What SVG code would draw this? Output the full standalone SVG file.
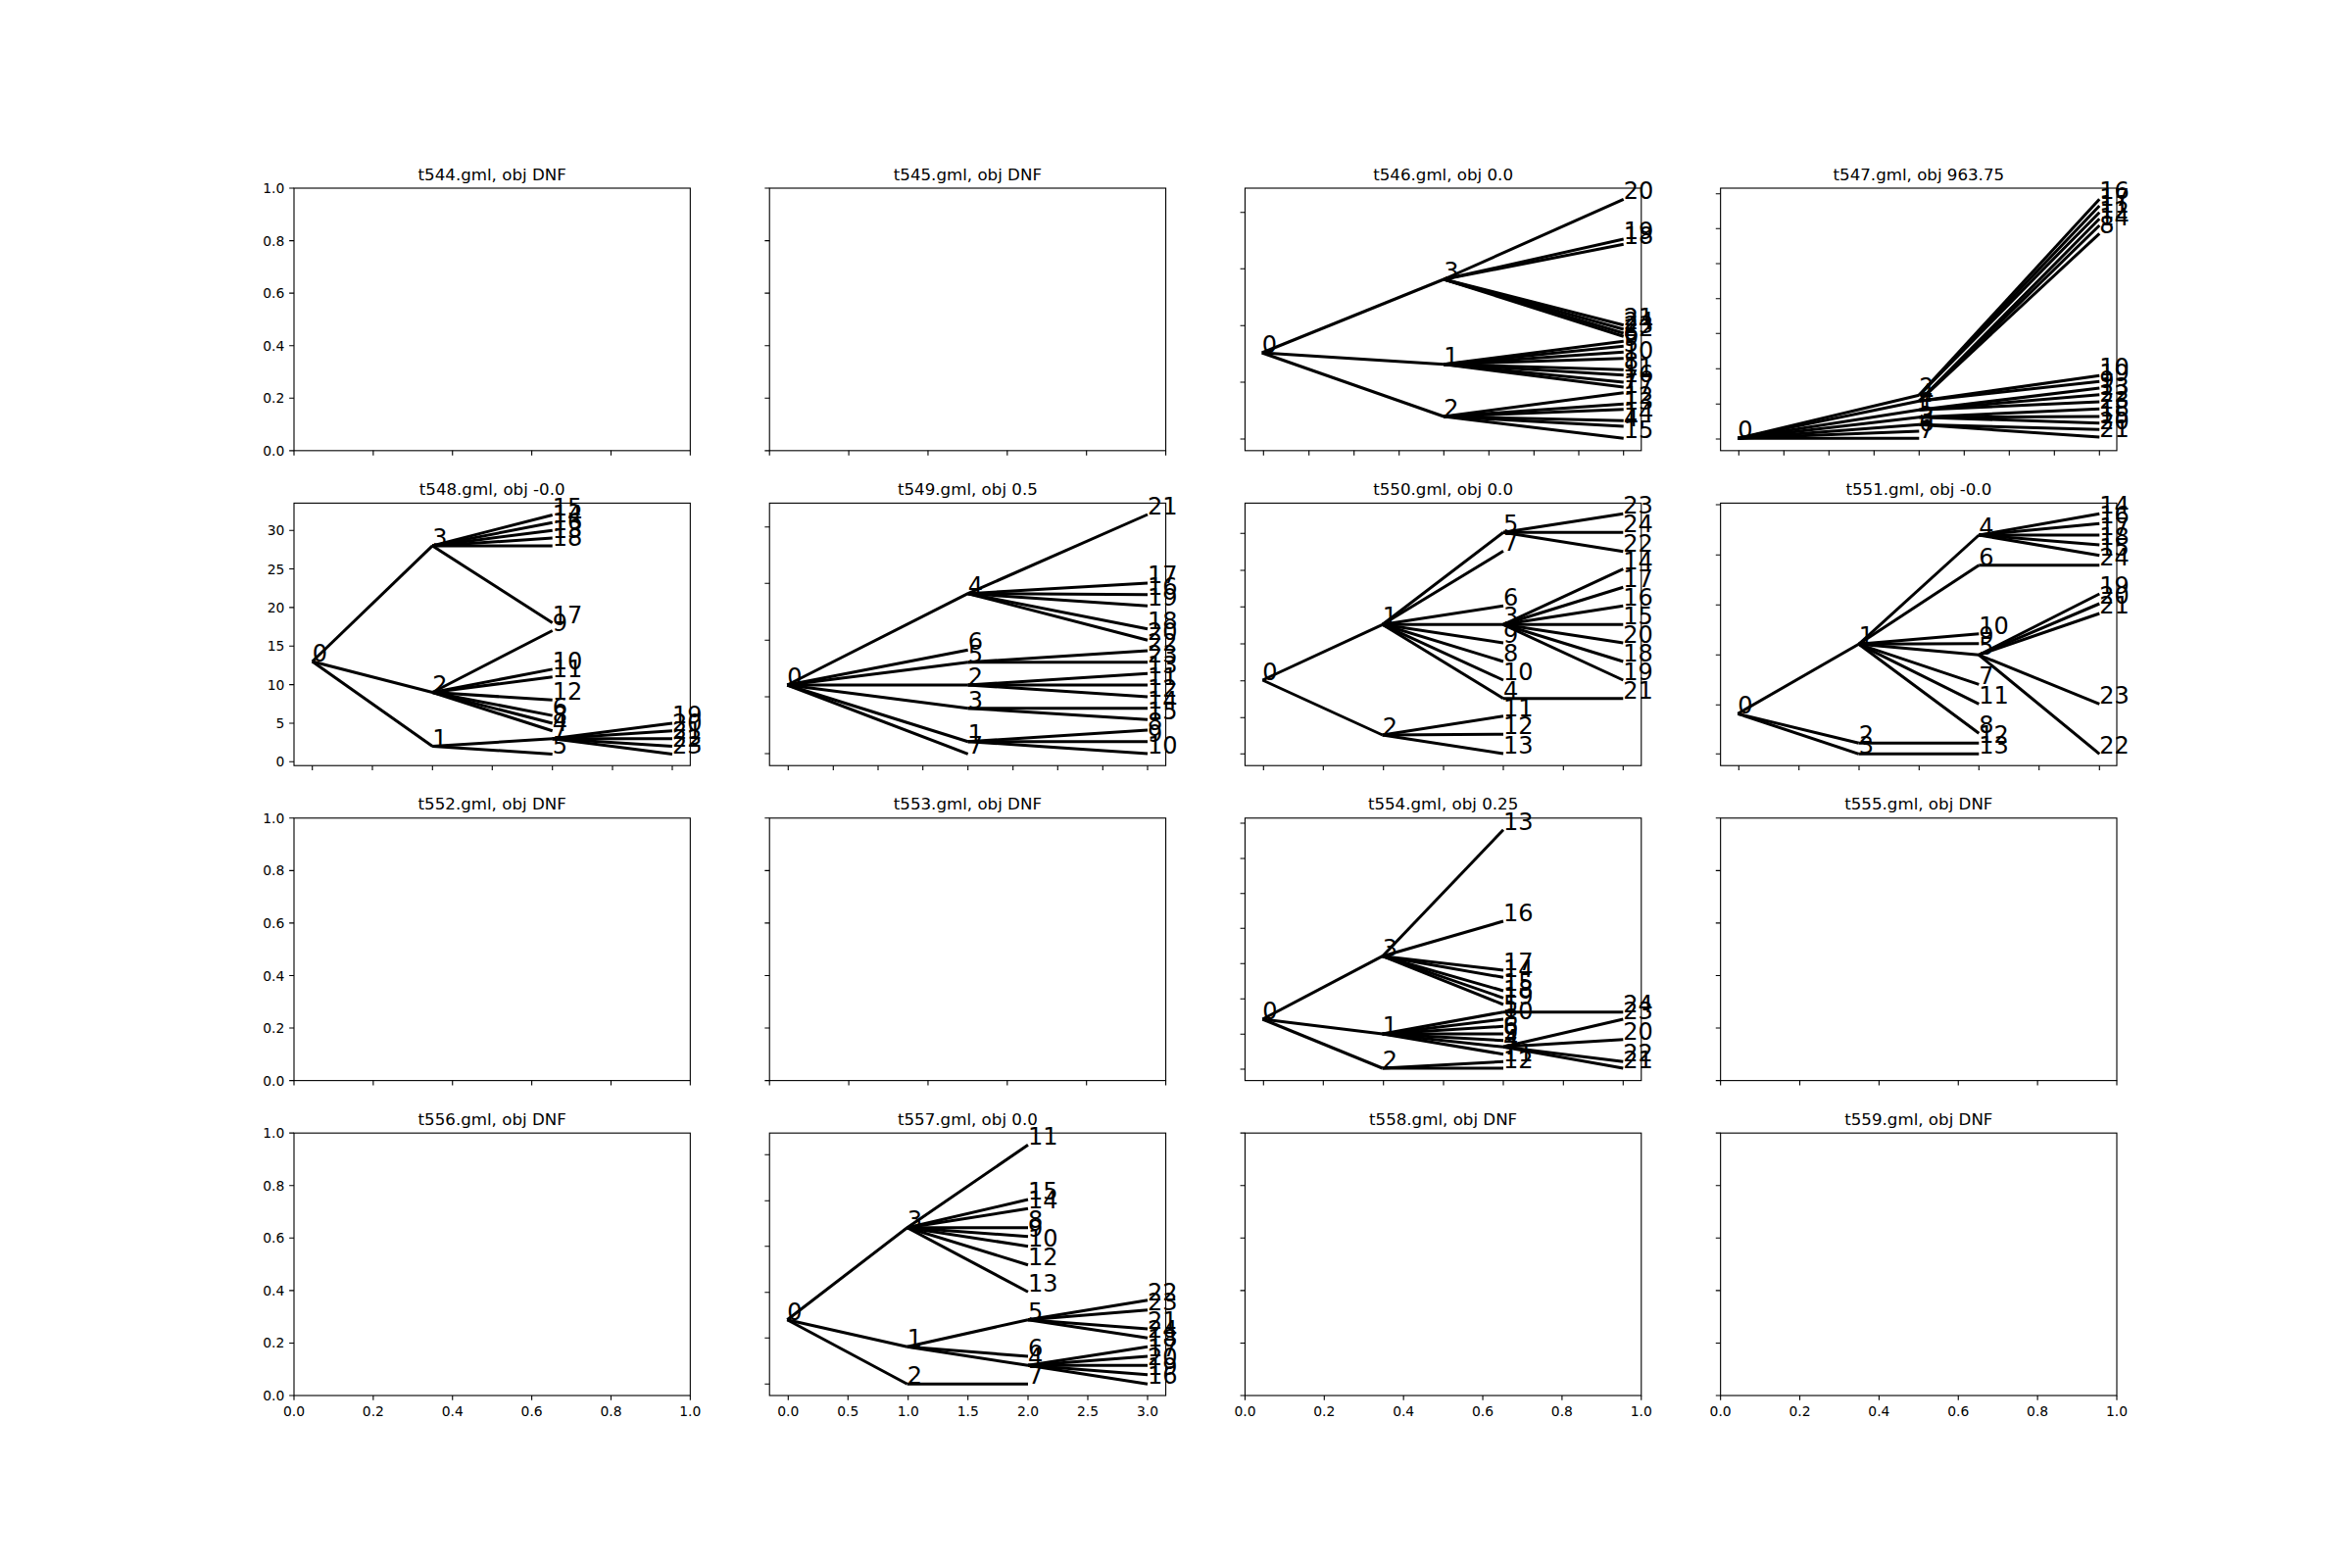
<svg xmlns="http://www.w3.org/2000/svg" xmlns:xlink="http://www.w3.org/1999/xlink" width="2400" height="1600" viewBox="0 0 2400 1600">
<style>
.ax{fill:none;stroke:#000;stroke-width:1.11}
.tk{fill:none;stroke:#000;stroke-width:1.11}
.e line{stroke:#000;stroke-width:3}
.ttl{font-family:'DejaVu Sans',sans-serif;font-size:16.67px;text-anchor:middle;fill:#000}
.tl{font-family:'DejaVu Sans',sans-serif;font-size:13.89px;fill:#000}
.yl{text-anchor:end}
.xl{text-anchor:middle}
.n text{font-family:'DejaVu Sans',sans-serif;font-size:24px;fill:#000}
</style>
<defs>
<g id="emptyAx">
<rect x="0" y="0" width="404.35" height="267.83" class="ax"/>
<path class="tk" d="M0 267.83v4.86M80.87 267.83v4.86M161.74 267.83v4.86M242.61 267.83v4.86M323.48 267.83v4.86M404.35 267.83v4.86M0 267.83h-4.86M0 214.26h-4.86M0 160.7h-4.86M0 107.13h-4.86M0 53.57h-4.86M0 0h-4.86"/>
</g>
</defs>
<rect width="2400" height="1600" fill="#fff"/>

<!-- t544 -->
<g id="t544">
<use xlink:href="#emptyAx" href="#emptyAx" transform="translate(300,192)"/>
<text class="ttl" x="502.17" y="183.67">t544.gml, obj DNF</text>
<g class="tl yl"><text x="290.3" y="464.8">0.0</text><text x="290.3" y="411.3">0.2</text><text x="290.3" y="357.7">0.4</text><text x="290.3" y="304.1">0.6</text><text x="290.3" y="250.6">0.8</text><text x="290.3" y="197">1.0</text></g>
</g>
<!-- t545 -->
<g id="t545">
<use xlink:href="#emptyAx" href="#emptyAx" transform="translate(785.22,192)"/>
<text class="ttl" x="987.4" y="183.67">t545.gml, obj DNF</text>
</g>
<!-- t552 -->
<g id="t552">
<use xlink:href="#emptyAx" href="#emptyAx" transform="translate(300,834.78)"/>
<text class="ttl" x="502.17" y="826.45">t552.gml, obj DNF</text>
<g class="tl yl"><text x="290.3" y="1107.6">0.0</text><text x="290.3" y="1054">0.2</text><text x="290.3" y="1000.5">0.4</text><text x="290.3" y="946.9">0.6</text><text x="290.3" y="893.3">0.8</text><text x="290.3" y="839.8">1.0</text></g>
</g>
<!-- t553 -->
<g id="t553">
<use xlink:href="#emptyAx" href="#emptyAx" transform="translate(785.22,834.78)"/>
<text class="ttl" x="987.4" y="826.45">t553.gml, obj DNF</text>
</g>
<!-- t555 -->
<g id="t555">
<use xlink:href="#emptyAx" href="#emptyAx" transform="translate(1755.65,834.78)"/>
<text class="ttl" x="1957.83" y="826.45">t555.gml, obj DNF</text>
</g>
<!-- t556 -->
<g id="t556">
<use xlink:href="#emptyAx" href="#emptyAx" transform="translate(300,1156.17)"/>
<text class="ttl" x="502.17" y="1147.84">t556.gml, obj DNF</text>
<g class="tl yl"><text x="290.3" y="1429">0.0</text><text x="290.3" y="1375.4">0.2</text><text x="290.3" y="1321.9">0.4</text><text x="290.3" y="1268.3">0.6</text><text x="290.3" y="1214.7">0.8</text><text x="290.3" y="1161.2">1.0</text></g>
<g class="tl xl"><text x="300" y="1445">0.0</text><text x="380.87" y="1445">0.2</text><text x="461.74" y="1445">0.4</text><text x="542.61" y="1445">0.6</text><text x="623.48" y="1445">0.8</text><text x="704.35" y="1445">1.0</text></g>
</g>
<!-- t558 -->
<g id="t558">
<use xlink:href="#emptyAx" href="#emptyAx" transform="translate(1270.43,1156.17)"/>
<text class="ttl" x="1472.6" y="1147.84">t558.gml, obj DNF</text>
<g class="tl xl"><text x="1270.43" y="1445">0.0</text><text x="1351.3" y="1445">0.2</text><text x="1432.17" y="1445">0.4</text><text x="1513.04" y="1445">0.6</text><text x="1593.91" y="1445">0.8</text><text x="1674.78" y="1445">1.0</text></g>
</g>
<!-- t559 -->
<g id="t559">
<use xlink:href="#emptyAx" href="#emptyAx" transform="translate(1755.65,1156.17)"/>
<text class="ttl" x="1957.83" y="1147.84">t559.gml, obj DNF</text>
<g class="tl xl"><text x="1755.65" y="1445">0.0</text><text x="1836.52" y="1445">0.2</text><text x="1917.39" y="1445">0.4</text><text x="1998.26" y="1445">0.6</text><text x="2079.13" y="1445">0.8</text><text x="2160" y="1445">1.0</text></g>
</g>

<!-- t546 -->
<g id="t546">
<rect class="ax" x="1270.43" y="192" width="404.35" height="267.83"/>
<path class="tk" d="M1289.3 459.83v4.86M1335.7 459.83v4.86M1381.7 459.83v4.86M1427.7 459.83v4.86M1473.3 459.83v4.86M1519.3 459.83v4.86M1565.3 459.83v4.86M1611 459.83v4.86M1656.7 459.83v4.86M1270.43 216.7h-4.86M1270.43 274.3h-4.86M1270.43 332.3h-4.86M1270.43 390h-4.86M1270.43 448h-4.86"/>
<text class="ttl" x="1472.6" y="183.67">t546.gml, obj 0.0</text>
<g id="t546-edges" class="e">
<line x1="1287.7" y1="360" x2="1473.3" y2="285"/><line x1="1287.7" y1="360" x2="1473.3" y2="371.7"/><line x1="1287.7" y1="360" x2="1473.3" y2="425"/>
<line x1="1473.3" y1="285" x2="1656.7" y2="203.3"/><line x1="1473.3" y1="285" x2="1656.7" y2="244"/><line x1="1473.3" y1="285" x2="1656.7" y2="249.3"/><line x1="1473.3" y1="285" x2="1656.7" y2="331.7"/><line x1="1473.3" y1="285" x2="1656.7" y2="336"/><line x1="1473.3" y1="285" x2="1656.7" y2="340"/><line x1="1473.3" y1="285" x2="1656.7" y2="343.3"/>
<line x1="1473.3" y1="371.7" x2="1656.7" y2="348.3"/><line x1="1473.3" y1="371.7" x2="1656.7" y2="353.3"/><line x1="1473.3" y1="371.7" x2="1656.7" y2="359.3"/><line x1="1473.3" y1="371.7" x2="1656.7" y2="365.7"/><line x1="1473.3" y1="371.7" x2="1656.7" y2="377.3"/><line x1="1473.3" y1="371.7" x2="1656.7" y2="382.7"/><line x1="1473.3" y1="371.7" x2="1656.7" y2="390"/><line x1="1473.3" y1="371.7" x2="1656.7" y2="395"/>
<line x1="1473.3" y1="425" x2="1656.7" y2="400.7"/><line x1="1473.3" y1="425" x2="1656.7" y2="412.3"/><line x1="1473.3" y1="425" x2="1656.7" y2="417.7"/><line x1="1473.3" y1="425" x2="1656.7" y2="429.3"/><line x1="1473.3" y1="425" x2="1656.7" y2="435"/><line x1="1473.3" y1="425" x2="1656.7" y2="447.3"/>
</g>
<g class="n">
<g id="t546-n0"><text x="1287.7" y="360">0</text></g>
<g id="t546-n3"><text x="1473.3" y="285">3</text></g>
<g id="t546-n1"><text x="1473.3" y="371.7">1</text></g>
<g id="t546-n2"><text x="1473.3" y="425">2</text></g>
<g id="t546-n20"><text x="1656.7" y="203.3">20</text></g>
<g id="t546-n19"><text x="1656.7" y="244">19</text></g>
<g id="t546-n18"><text x="1656.7" y="249.3">18</text></g>
<g id="t546-n21"><text x="1656.7" y="331.7">21</text></g>
<g id="t546-n24"><text x="1656.7" y="336">24</text></g>
<g id="t546-n23"><text x="1656.7" y="340">23</text></g>
<g id="t546-n22"><text x="1656.7" y="343.3">22</text></g>
<g id="t546-n6"><text x="1656.7" y="348.3">6</text></g>
<g id="t546-n9"><text x="1656.7" y="353.3">9</text></g>
<g id="t546-n5"><text x="1656.7" y="359.3">5</text></g>
<g id="t546-n10"><text x="1656.7" y="365.7">10</text></g>
<g id="t546-n8"><text x="1656.7" y="377.3">8</text></g>
<g id="t546-n11"><text x="1656.7" y="382.7">11</text></g>
<g id="t546-n16"><text x="1656.7" y="390">16</text></g>
<g id="t546-n7"><text x="1656.7" y="395">7</text></g>
<g id="t546-n17"><text x="1656.7" y="400.7">17</text></g>
<g id="t546-n12"><text x="1656.7" y="412.3">12</text></g>
<g id="t546-n13"><text x="1656.7" y="417.7">13</text></g>
<g id="t546-n14"><text x="1656.7" y="429.3">14</text></g>
<g id="t546-n4"><text x="1656.7" y="435">4</text></g>
<g id="t546-n15"><text x="1656.7" y="447.3">15</text></g>
</g>
</g>

<!-- t547 -->
<g id="t547">
<rect class="ax" x="1755.65" y="192" width="404.35" height="267.83"/>
<path class="tk" d="M1774.3 459.83v4.86M1820.3 459.83v4.86M1866.3 459.83v4.86M1912.3 459.83v4.86M1958.3 459.83v4.86M2004.3 459.83v4.86M2050.3 459.83v4.86M2096.3 459.83v4.86M2142.3 459.83v4.86M1755.65 197.7h-4.86M1755.65 233.3h-4.86M1755.65 269h-4.86M1755.65 304.7h-4.86M1755.65 340.3h-4.86M1755.65 376.3h-4.86M1755.65 412.3h-4.86M1755.65 448h-4.86"/>
<text class="ttl" x="1957.83" y="183.67">t547.gml, obj 963.75</text>
<g id="t547-edges" class="e">
<line x1="1773.3" y1="447.3" x2="1958.3" y2="403.3"/><line x1="1773.3" y1="447.3" x2="1958.3" y2="409.3"/><line x1="1773.3" y1="447.3" x2="1958.3" y2="418.3"/><line x1="1773.3" y1="447.3" x2="1958.3" y2="425.7"/><line x1="1773.3" y1="447.3" x2="1958.3" y2="433.3"/><line x1="1773.3" y1="447.3" x2="1958.3" y2="440"/><line x1="1773.3" y1="447.3" x2="1958.3" y2="447.3"/>
<line x1="1958.3" y1="403.3" x2="2142.3" y2="203.3"/><line x1="1958.3" y1="403.3" x2="2142.3" y2="210"/><line x1="1958.3" y1="403.3" x2="2142.3" y2="216.7"/><line x1="1958.3" y1="409.3" x2="2142.3" y2="223.3"/><line x1="1958.3" y1="409.3" x2="2142.3" y2="230"/><line x1="1958.3" y1="409.3" x2="2142.3" y2="238.3"/>
<line x1="1958.3" y1="409.3" x2="2142.3" y2="383.3"/><line x1="1958.3" y1="409.3" x2="2142.3" y2="389.3"/><line x1="1958.3" y1="418.3" x2="2142.3" y2="396"/><line x1="1958.3" y1="418.3" x2="2142.3" y2="402.7"/><line x1="1958.3" y1="418.3" x2="2142.3" y2="410"/><line x1="1958.3" y1="425.7" x2="2142.3" y2="417.3"/><line x1="1958.3" y1="425.7" x2="2142.3" y2="425"/><line x1="1958.3" y1="425.7" x2="2142.3" y2="431.7"/><line x1="1958.3" y1="433.3" x2="2142.3" y2="438.3"/><line x1="1958.3" y1="433.3" x2="2142.3" y2="446"/>
</g>
<g class="n">
<g id="t547-n0"><text x="1773.3" y="447.3">0</text></g>
<g id="t547-n2"><text x="1958.3" y="403.3">2</text></g>
<g id="t547-n4"><text x="1958.3" y="409.3">4</text></g>
<g id="t547-n1"><text x="1958.3" y="418.3">1</text></g>
<g id="t547-n5"><text x="1958.3" y="425.7">5</text></g>
<g id="t547-n3"><text x="1958.3" y="433.3">3</text></g>
<g id="t547-n6"><text x="1958.3" y="440">6</text></g>
<g id="t547-n7"><text x="1958.3" y="447.3">7</text></g>
<g id="t547-n16"><text x="2142.3" y="203.3">16</text></g>
<g id="t547-n17"><text x="2142.3" y="210">17</text></g>
<g id="t547-n11"><text x="2142.3" y="216.7">11</text></g>
<g id="t547-n12"><text x="2142.3" y="223.3">12</text></g>
<g id="t547-n14"><text x="2142.3" y="230">14</text></g>
<g id="t547-n8"><text x="2142.3" y="238.3">8</text></g>
<g id="t547-n10"><text x="2142.3" y="383.3">10</text></g>
<g id="t547-n19"><text x="2142.3" y="389.3">19</text></g>
<g id="t547-n9"><text x="2142.3" y="396">9</text></g>
<g id="t547-n13"><text x="2142.3" y="402.7">13</text></g>
<g id="t547-n22"><text x="2142.3" y="410">22</text></g>
<g id="t547-n23"><text x="2142.3" y="417.3">23</text></g>
<g id="t547-n18"><text x="2142.3" y="425">18</text></g>
<g id="t547-n15"><text x="2142.3" y="431.7">15</text></g>
<g id="t547-n20"><text x="2142.3" y="438.3">20</text></g>
<g id="t547-n21"><text x="2142.3" y="446">21</text></g>
</g>
</g>

<!-- t548 -->
<g id="t548">
<rect class="ax" x="300" y="513.39" width="404.35" height="267.83"/>
<path class="tk" d="M318.7 781.22v4.86M380 781.22v4.86M441.3 781.22v4.86M502.3 781.22v4.86M563.7 781.22v4.86M625 781.22v4.86M686 781.22v4.86M300 541.2h-4.86M300 580.55h-4.86M300 619.9h-4.86M300 659.25h-4.86M300 698.6h-4.86M300 737.95h-4.86M300 777.3h-4.86"/>
<text class="ttl" x="502.17" y="505.06">t548.gml, obj -0.0</text>
<g class="tl yl"><text x="290.3" y="546.2">30</text><text x="290.3" y="585.55">25</text><text x="290.3" y="624.9">20</text><text x="290.3" y="664.25">15</text><text x="290.3" y="703.6">10</text><text x="290.3" y="742.95">5</text><text x="290.3" y="782.3">0</text></g>
<g id="t548-edges" class="e">
<line x1="318.7" y1="675" x2="441.3" y2="556.9"/><line x1="318.7" y1="675" x2="441.3" y2="706.5"/><line x1="318.7" y1="675" x2="441.3" y2="761.6"/>
<line x1="441.3" y1="556.9" x2="563.7" y2="525.5"/><line x1="441.3" y1="556.9" x2="563.7" y2="533.3"/><line x1="441.3" y1="556.9" x2="563.7" y2="541.2"/><line x1="441.3" y1="556.9" x2="563.7" y2="549.1"/><line x1="441.3" y1="556.9" x2="563.7" y2="556.9"/><line x1="441.3" y1="556.9" x2="563.7" y2="635.6"/>
<line x1="441.3" y1="706.5" x2="563.7" y2="643.5"/><line x1="441.3" y1="706.5" x2="563.7" y2="682.9"/><line x1="441.3" y1="706.5" x2="563.7" y2="690.7"/><line x1="441.3" y1="706.5" x2="563.7" y2="714.3"/><line x1="441.3" y1="706.5" x2="563.7" y2="730.1"/><line x1="441.3" y1="706.5" x2="563.7" y2="738"/><line x1="441.3" y1="706.5" x2="563.7" y2="745.8"/>
<line x1="441.3" y1="761.6" x2="563.7" y2="769.4"/><line x1="441.3" y1="761.6" x2="563.7" y2="753.7"/>
<line x1="563.7" y1="753.7" x2="686" y2="738"/><line x1="563.7" y1="753.7" x2="686" y2="745.8"/><line x1="563.7" y1="753.7" x2="686" y2="753.7"/><line x1="563.7" y1="753.7" x2="686" y2="761.6"/><line x1="563.7" y1="753.7" x2="686" y2="769.4"/>
</g>
<g class="n">
<g id="t548-n0"><text x="318.7" y="675">0</text></g>
<g id="t548-n3"><text x="441.3" y="556.9">3</text></g>
<g id="t548-n2"><text x="441.3" y="706.5">2</text></g>
<g id="t548-n1"><text x="441.3" y="761.6">1</text></g>
<g id="t548-n15"><text x="563.7" y="525.5">15</text></g>
<g id="t548-n14"><text x="563.7" y="533.3">14</text></g>
<g id="t548-n16"><text x="563.7" y="541.2">16</text></g>
<g id="t548-n13"><text x="563.7" y="549.1">13</text></g>
<g id="t548-n18"><text x="563.7" y="556.9">18</text></g>
<g id="t548-n17"><text x="563.7" y="635.6">17</text></g>
<g id="t548-n9"><text x="563.7" y="643.5">9</text></g>
<g id="t548-n10"><text x="563.7" y="682.9">10</text></g>
<g id="t548-n11"><text x="563.7" y="690.7">11</text></g>
<g id="t548-n12"><text x="563.7" y="714.3">12</text></g>
<g id="t548-n6"><text x="563.7" y="730.1">6</text></g>
<g id="t548-n8"><text x="563.7" y="738">8</text></g>
<g id="t548-n4"><text x="563.7" y="745.8">4</text></g>
<g id="t548-n7"><text x="563.7" y="753.7">7</text></g>
<g id="t548-n5"><text x="563.7" y="769.4">5</text></g>
<g id="t548-n19"><text x="686" y="738">19</text></g>
<g id="t548-n20"><text x="686" y="745.8">20</text></g>
<g id="t548-n21"><text x="686" y="753.7">21</text></g>
<g id="t548-n22"><text x="686" y="761.6">22</text></g>
<g id="t548-n23"><text x="686" y="769.4">23</text></g>
</g>
</g>

<!-- t549 -->
<g id="t549">
<rect class="ax" x="785.22" y="513.39" width="404.35" height="267.83"/>
<path class="tk" d="M804.3 781.22v4.86M850.3 781.22v4.86M896 781.22v4.86M941.7 781.22v4.86M987.7 781.22v4.86M1033.7 781.22v4.86M1079.3 781.22v4.86M1125.3 781.22v4.86M1171 781.22v4.86M785.22 537.7h-4.86M785.22 595.3h-4.86M785.22 653.3h-4.86M785.22 711h-4.86M785.22 769h-4.86"/>
<text class="ttl" x="987.4" y="505.06">t549.gml, obj 0.5</text>
<g id="t549-edges" class="e">
<line x1="803.3" y1="699" x2="987.7" y2="605.7"/><line x1="803.3" y1="699" x2="987.7" y2="663.3"/><line x1="803.3" y1="699" x2="987.7" y2="675.7"/><line x1="803.3" y1="699" x2="987.7" y2="699"/><line x1="803.3" y1="699" x2="987.7" y2="722.7"/><line x1="803.3" y1="699" x2="987.7" y2="756.7"/><line x1="803.3" y1="699" x2="987.7" y2="769.3"/>
<line x1="987.7" y1="605.7" x2="1171" y2="525"/><line x1="987.7" y1="605.7" x2="1171" y2="595"/><line x1="987.7" y1="605.7" x2="1171" y2="606.7"/><line x1="987.7" y1="605.7" x2="1171" y2="618.3"/><line x1="987.7" y1="605.7" x2="1171" y2="641.7"/><line x1="987.7" y1="605.7" x2="1171" y2="653.3"/>
<line x1="987.7" y1="675.7" x2="1171" y2="664"/><line x1="987.7" y1="675.7" x2="1171" y2="675.7"/>
<line x1="987.7" y1="699" x2="1171" y2="687.3"/><line x1="987.7" y1="699" x2="1171" y2="699"/><line x1="987.7" y1="699" x2="1171" y2="711"/>
<line x1="987.7" y1="722.7" x2="1171" y2="722.7"/><line x1="987.7" y1="722.7" x2="1171" y2="734.3"/>
<line x1="987.7" y1="756.7" x2="1171" y2="745"/><line x1="987.7" y1="756.7" x2="1171" y2="756.7"/><line x1="987.7" y1="756.7" x2="1171" y2="769"/>
</g>
<g class="n">
<g id="t549-n0"><text x="803.3" y="699">0</text></g>
<g id="t549-n4"><text x="987.7" y="605.7">4</text></g>
<g id="t549-n6"><text x="987.7" y="663.3">6</text></g>
<g id="t549-n5"><text x="987.7" y="675.7">5</text></g>
<g id="t549-n2"><text x="987.7" y="699">2</text></g>
<g id="t549-n3"><text x="987.7" y="722.7">3</text></g>
<g id="t549-n1"><text x="987.7" y="756.7">1</text></g>
<g id="t549-n7"><text x="987.7" y="769.3">7</text></g>
<g id="t549-n21"><text x="1171" y="525">21</text></g>
<g id="t549-n17"><text x="1171" y="595">17</text></g>
<g id="t549-n16"><text x="1171" y="606.7">16</text></g>
<g id="t549-n19"><text x="1171" y="618.3">19</text></g>
<g id="t549-n18"><text x="1171" y="641.7">18</text></g>
<g id="t549-n20"><text x="1171" y="653.3">20</text></g>
<g id="t549-n22"><text x="1171" y="664">22</text></g>
<g id="t549-n23"><text x="1171" y="675.7">23</text></g>
<g id="t549-n13"><text x="1171" y="687.3">13</text></g>
<g id="t549-n11"><text x="1171" y="699">11</text></g>
<g id="t549-n12"><text x="1171" y="711">12</text></g>
<g id="t549-n14"><text x="1171" y="722.7">14</text></g>
<g id="t549-n15"><text x="1171" y="734.3">15</text></g>
<g id="t549-n8"><text x="1171" y="745">8</text></g>
<g id="t549-n9"><text x="1171" y="756.7">9</text></g>
<g id="t549-n10"><text x="1171" y="769">10</text></g>
</g>
</g>

<!-- t550 -->
<g id="t550">
<rect class="ax" x="1270.43" y="513.39" width="404.35" height="267.83"/>
<path class="tk" d="M1289.3 781.22v4.86M1350.3 781.22v4.86M1411.7 781.22v4.86M1473 781.22v4.86M1534 781.22v4.86M1595.3 781.22v4.86M1656.3 781.22v4.86M1270.43 544.3h-4.86M1270.43 582h-4.86M1270.43 619.3h-4.86M1270.43 657h-4.86M1270.43 694.7h-4.86M1270.43 732.3h-4.86M1270.43 769.3h-4.86"/>
<text class="ttl" x="1472.6" y="505.06">t550.gml, obj 0.0</text>
<g id="t550-edges" class="e">
<line x1="1288.3" y1="694" x2="1410.7" y2="637.3"/><line x1="1288.3" y1="694" x2="1410.7" y2="750"/>
<line x1="1410.7" y1="637.3" x2="1534" y2="543.3"/><line x1="1410.7" y1="637.3" x2="1534" y2="562.3"/><line x1="1410.7" y1="637.3" x2="1534" y2="618.3"/><line x1="1410.7" y1="637.3" x2="1534" y2="637.3"/><line x1="1410.7" y1="637.3" x2="1534" y2="656"/><line x1="1410.7" y1="637.3" x2="1534" y2="675"/><line x1="1410.7" y1="637.3" x2="1534" y2="694"/><line x1="1410.7" y1="637.3" x2="1534" y2="712.7"/>
<line x1="1410.7" y1="750" x2="1534" y2="730.7"/><line x1="1410.7" y1="750" x2="1534" y2="749.3"/><line x1="1410.7" y1="750" x2="1534" y2="769"/>
<line x1="1534" y1="543.3" x2="1656.3" y2="524.3"/><line x1="1534" y1="543.3" x2="1656.3" y2="543.3"/><line x1="1534" y1="543.3" x2="1656.3" y2="562.7"/>
<line x1="1534" y1="637.3" x2="1656.3" y2="580.7"/><line x1="1534" y1="637.3" x2="1656.3" y2="599.3"/><line x1="1534" y1="637.3" x2="1656.3" y2="618.3"/><line x1="1534" y1="637.3" x2="1656.3" y2="637.3"/><line x1="1534" y1="637.3" x2="1656.3" y2="656"/><line x1="1534" y1="637.3" x2="1656.3" y2="675"/><line x1="1534" y1="637.3" x2="1656.3" y2="694"/>
<line x1="1534" y1="712.7" x2="1656.3" y2="712.7"/>
</g>
<g class="n">
<g id="t550-n0"><text x="1288.3" y="694">0</text></g>
<g id="t550-n1"><text x="1410.7" y="637.3">1</text></g>
<g id="t550-n2"><text x="1410.7" y="750">2</text></g>
<g id="t550-n5"><text x="1534" y="543.3">5</text></g>
<g id="t550-n7"><text x="1534" y="562.3">7</text></g>
<g id="t550-n6"><text x="1534" y="618.3">6</text></g>
<g id="t550-n3"><text x="1534" y="637.3">3</text></g>
<g id="t550-n9"><text x="1534" y="656">9</text></g>
<g id="t550-n8"><text x="1534" y="675">8</text></g>
<g id="t550-n10"><text x="1534" y="694">10</text></g>
<g id="t550-n4"><text x="1534" y="712.7">4</text></g>
<g id="t550-n11"><text x="1534" y="730.7">11</text></g>
<g id="t550-n12"><text x="1534" y="749.3">12</text></g>
<g id="t550-n13"><text x="1534" y="769">13</text></g>
<g id="t550-n23"><text x="1656.3" y="524.3">23</text></g>
<g id="t550-n24"><text x="1656.3" y="543.3">24</text></g>
<g id="t550-n22"><text x="1656.3" y="562.7">22</text></g>
<g id="t550-n14"><text x="1656.3" y="580.7">14</text></g>
<g id="t550-n17"><text x="1656.3" y="599.3">17</text></g>
<g id="t550-n16"><text x="1656.3" y="618.3">16</text></g>
<g id="t550-n15"><text x="1656.3" y="637.3">15</text></g>
<g id="t550-n20"><text x="1656.3" y="656">20</text></g>
<g id="t550-n18"><text x="1656.3" y="675">18</text></g>
<g id="t550-n19"><text x="1656.3" y="694">19</text></g>
<g id="t550-n21"><text x="1656.3" y="712.7">21</text></g>
</g>
</g>

<!-- t551 -->
<g id="t551">
<rect class="ax" x="1755.65" y="513.39" width="404.35" height="267.83"/>
<path class="tk" d="M1774.3 781.22v4.86M1835.7 781.22v4.86M1897 781.22v4.86M1958.3 781.22v4.86M2019.3 781.22v4.86M2080.7 781.22v4.86M2142.3 781.22v4.86M1755.65 515h-4.86M1755.65 566.3h-4.86M1755.65 617.3h-4.86M1755.65 668.3h-4.86M1755.65 719.3h-4.86M1755.65 769.3h-4.86"/>
<text class="ttl" x="1957.83" y="505.06">t551.gml, obj -0.0</text>
<g id="t551-edges" class="e">
<line x1="1773.3" y1="728.3" x2="1896.7" y2="657.3"/><line x1="1773.3" y1="728.3" x2="1896.7" y2="758.3"/><line x1="1773.3" y1="728.3" x2="1896.7" y2="769.3"/>
<line x1="1896.7" y1="657.3" x2="2019.3" y2="546"/><line x1="1896.7" y1="657.3" x2="2019.3" y2="576.7"/><line x1="1896.7" y1="657.3" x2="2019.3" y2="646.7"/><line x1="1896.7" y1="657.3" x2="2019.3" y2="656.7"/><line x1="1896.7" y1="657.3" x2="2019.3" y2="668.3"/><line x1="1896.7" y1="657.3" x2="2019.3" y2="698.3"/><line x1="1896.7" y1="657.3" x2="2019.3" y2="718.3"/><line x1="1896.7" y1="657.3" x2="2019.3" y2="748.3"/>
<line x1="1896.7" y1="758.3" x2="2019.3" y2="758.3"/><line x1="1896.7" y1="769.3" x2="2019.3" y2="769.3"/>
<line x1="2019.3" y1="546" x2="2142.3" y2="524.3"/><line x1="2019.3" y1="546" x2="2142.3" y2="534.3"/><line x1="2019.3" y1="546" x2="2142.3" y2="546"/><line x1="2019.3" y1="546" x2="2142.3" y2="556"/><line x1="2019.3" y1="546" x2="2142.3" y2="566.7"/>
<line x1="2019.3" y1="576.7" x2="2142.3" y2="576.7"/>
<line x1="2019.3" y1="668.3" x2="2142.3" y2="606"/><line x1="2019.3" y1="668.3" x2="2142.3" y2="616"/><line x1="2019.3" y1="668.3" x2="2142.3" y2="626"/><line x1="2019.3" y1="668.3" x2="2142.3" y2="718.3"/><line x1="2019.3" y1="668.3" x2="2142.3" y2="769.3"/>
</g>
<g class="n">
<g id="t551-n0"><text x="1773.3" y="728.3">0</text></g>
<g id="t551-n1"><text x="1896.7" y="657.3">1</text></g>
<g id="t551-n2"><text x="1896.7" y="758.3">2</text></g>
<g id="t551-n3"><text x="1896.7" y="769.3">3</text></g>
<g id="t551-n4"><text x="2019.3" y="546">4</text></g>
<g id="t551-n6"><text x="2019.3" y="576.7">6</text></g>
<g id="t551-n10"><text x="2019.3" y="646.7">10</text></g>
<g id="t551-n9"><text x="2019.3" y="656.7">9</text></g>
<g id="t551-n5"><text x="2019.3" y="668.3">5</text></g>
<g id="t551-n7"><text x="2019.3" y="698.3">7</text></g>
<g id="t551-n11"><text x="2019.3" y="718.3">11</text></g>
<g id="t551-n8"><text x="2019.3" y="748.3">8</text></g>
<g id="t551-n12"><text x="2019.3" y="758.3">12</text></g>
<g id="t551-n13"><text x="2019.3" y="769.3">13</text></g>
<g id="t551-n14"><text x="2142.3" y="524.3">14</text></g>
<g id="t551-n16"><text x="2142.3" y="534.3">16</text></g>
<g id="t551-n17"><text x="2142.3" y="546">17</text></g>
<g id="t551-n18"><text x="2142.3" y="556">18</text></g>
<g id="t551-n15"><text x="2142.3" y="566.7">15</text></g>
<g id="t551-n24"><text x="2142.3" y="576.7">24</text></g>
<g id="t551-n19"><text x="2142.3" y="606">19</text></g>
<g id="t551-n20"><text x="2142.3" y="616">20</text></g>
<g id="t551-n21"><text x="2142.3" y="626">21</text></g>
<g id="t551-n23"><text x="2142.3" y="718.3">23</text></g>
<g id="t551-n22"><text x="2142.3" y="769.3">22</text></g>
</g>
</g>

<!-- t554 -->
<g id="t554">
<rect class="ax" x="1270.43" y="834.78" width="404.35" height="267.83"/>
<path class="tk" d="M1289.3 1102.61v4.86M1350.3 1102.61v4.86M1411.7 1102.61v4.86M1473 1102.61v4.86M1534 1102.61v4.86M1595.3 1102.61v4.86M1656.3 1102.61v4.86M1270.43 840h-4.86M1270.43 876h-4.86M1270.43 911.7h-4.86M1270.43 947.3h-4.86M1270.43 983.3h-4.86M1270.43 1019.3h-4.86M1270.43 1055.3h-4.86M1270.43 1091h-4.86"/>
<text class="ttl" x="1472.6" y="826.45">t554.gml, obj 0.25</text>
<g id="t554-edges" class="e">
<line x1="1288.3" y1="1040" x2="1410.7" y2="975.7"/><line x1="1288.3" y1="1040" x2="1410.7" y2="1055"/><line x1="1288.3" y1="1040" x2="1410.7" y2="1090"/>
<line x1="1410.7" y1="975.7" x2="1534" y2="846.7"/><line x1="1410.7" y1="975.7" x2="1534" y2="940"/><line x1="1410.7" y1="975.7" x2="1534" y2="990"/><line x1="1410.7" y1="975.7" x2="1534" y2="997.3"/><line x1="1410.7" y1="975.7" x2="1534" y2="1011"/><line x1="1410.7" y1="975.7" x2="1534" y2="1018.3"/><line x1="1410.7" y1="975.7" x2="1534" y2="1025"/>
<line x1="1410.7" y1="1055" x2="1534" y2="1032.7"/><line x1="1410.7" y1="1055" x2="1534" y2="1040"/><line x1="1410.7" y1="1055" x2="1534" y2="1047.3"/><line x1="1410.7" y1="1055" x2="1534" y2="1055"/><line x1="1410.7" y1="1055" x2="1534" y2="1061.7"/><line x1="1410.7" y1="1055" x2="1534" y2="1068.3"/><line x1="1410.7" y1="1055" x2="1534" y2="1075.7"/>
<line x1="1410.7" y1="1090" x2="1534" y2="1083.3"/><line x1="1410.7" y1="1090" x2="1534" y2="1090"/>
<line x1="1534" y1="1032.7" x2="1656.3" y2="1032.7"/>
<line x1="1534" y1="1068.3" x2="1656.3" y2="1040"/><line x1="1534" y1="1068.3" x2="1656.3" y2="1060.7"/><line x1="1534" y1="1068.3" x2="1656.3" y2="1083.3"/><line x1="1534" y1="1068.3" x2="1656.3" y2="1090"/>
</g>
<g class="n">
<g id="t554-n0"><text x="1288.3" y="1040">0</text></g>
<g id="t554-n3"><text x="1410.7" y="975.7">3</text></g>
<g id="t554-n1"><text x="1410.7" y="1055">1</text></g>
<g id="t554-n2"><text x="1410.7" y="1090">2</text></g>
<g id="t554-n13"><text x="1534" y="846.7">13</text></g>
<g id="t554-n16"><text x="1534" y="940">16</text></g>
<g id="t554-n17"><text x="1534" y="990">17</text></g>
<g id="t554-n14"><text x="1534" y="997.3">14</text></g>
<g id="t554-n15"><text x="1534" y="1011">15</text></g>
<g id="t554-n18"><text x="1534" y="1018.3">18</text></g>
<g id="t554-n19"><text x="1534" y="1025">19</text></g>
<g id="t554-n5"><text x="1534" y="1032.7">5</text></g>
<g id="t554-n10"><text x="1534" y="1040">10</text></g>
<g id="t554-n8"><text x="1534" y="1047.3">8</text></g>
<g id="t554-n6"><text x="1534" y="1055">6</text></g>
<g id="t554-n9"><text x="1534" y="1061.7">9</text></g>
<g id="t554-n4"><text x="1534" y="1068.3">4</text></g>
<g id="t554-n7"><text x="1534" y="1075.7">7</text></g>
<g id="t554-n11"><text x="1534" y="1083.3">11</text></g>
<g id="t554-n12"><text x="1534" y="1090">12</text></g>
<g id="t554-n24"><text x="1656.3" y="1032.7">24</text></g>
<g id="t554-n23"><text x="1656.3" y="1040">23</text></g>
<g id="t554-n20"><text x="1656.3" y="1060.7">20</text></g>
<g id="t554-n22"><text x="1656.3" y="1083.3">22</text></g>
<g id="t554-n21"><text x="1656.3" y="1090">21</text></g>
</g>
</g>

<!-- t557 -->
<g id="t557">
<rect class="ax" x="785.22" y="1156.17" width="404.35" height="267.83"/>
<path class="tk" d="M804.3 1424v4.86M865.3 1424v4.86M926.7 1424v4.86M987.7 1424v4.86M1049 1424v4.86M1110 1424v4.86M1171 1424v4.86M785.22 1178.3h-4.86M785.22 1225.3h-4.86M785.22 1271.7h-4.86M785.22 1318.7h-4.86M785.22 1365.3h-4.86M785.22 1412.3h-4.86"/>
<text class="ttl" x="987.4" y="1147.84">t557.gml, obj 0.0</text>
<g class="tl xl"><text x="804.3" y="1445">0.0</text><text x="865.3" y="1445">0.5</text><text x="926.7" y="1445">1.0</text><text x="987.7" y="1445">1.5</text><text x="1049" y="1445">2.0</text><text x="1110" y="1445">2.5</text><text x="1171" y="1445">3.0</text></g>
<g id="t557-edges" class="e">
<line x1="803.3" y1="1346.7" x2="925.7" y2="1252.7"/><line x1="803.3" y1="1346.7" x2="925.7" y2="1374.3"/><line x1="803.3" y1="1346.7" x2="925.7" y2="1412.3"/>
<line x1="925.7" y1="1252.7" x2="1049" y2="1168.3"/><line x1="925.7" y1="1252.7" x2="1049" y2="1224"/><line x1="925.7" y1="1252.7" x2="1049" y2="1233.3"/><line x1="925.7" y1="1252.7" x2="1049" y2="1252.7"/><line x1="925.7" y1="1252.7" x2="1049" y2="1261.7"/><line x1="925.7" y1="1252.7" x2="1049" y2="1271.7"/><line x1="925.7" y1="1252.7" x2="1049" y2="1290.7"/><line x1="925.7" y1="1252.7" x2="1049" y2="1318.3"/>
<line x1="925.7" y1="1374.3" x2="1049" y2="1346.7"/><line x1="925.7" y1="1374.3" x2="1049" y2="1384"/><line x1="925.7" y1="1374.3" x2="1049" y2="1393.3"/>
<line x1="925.7" y1="1412.3" x2="1049" y2="1412.3"/>
<line x1="1049" y1="1346.7" x2="1171" y2="1326.7"/><line x1="1049" y1="1346.7" x2="1171" y2="1336.7"/><line x1="1049" y1="1346.7" x2="1171" y2="1356"/><line x1="1049" y1="1346.7" x2="1171" y2="1365.3"/>
<line x1="1049" y1="1393.3" x2="1171" y2="1374.3"/><line x1="1049" y1="1393.3" x2="1171" y2="1384"/><line x1="1049" y1="1393.3" x2="1171" y2="1393.3"/><line x1="1049" y1="1393.3" x2="1171" y2="1402.7"/><line x1="1049" y1="1393.3" x2="1171" y2="1412.3"/>
</g>
<g class="n">
<g id="t557-n0"><text x="803.3" y="1346.7">0</text></g>
<g id="t557-n3"><text x="925.7" y="1252.7">3</text></g>
<g id="t557-n1"><text x="925.7" y="1374.3">1</text></g>
<g id="t557-n2"><text x="925.7" y="1412.3">2</text></g>
<g id="t557-n11"><text x="1049" y="1168.3">11</text></g>
<g id="t557-n15"><text x="1049" y="1224">15</text></g>
<g id="t557-n14"><text x="1049" y="1233.3">14</text></g>
<g id="t557-n8"><text x="1049" y="1252.7">8</text></g>
<g id="t557-n9"><text x="1049" y="1261.7">9</text></g>
<g id="t557-n10"><text x="1049" y="1271.7">10</text></g>
<g id="t557-n12"><text x="1049" y="1290.7">12</text></g>
<g id="t557-n13"><text x="1049" y="1318.3">13</text></g>
<g id="t557-n5"><text x="1049" y="1346.7">5</text></g>
<g id="t557-n6"><text x="1049" y="1384">6</text></g>
<g id="t557-n4"><text x="1049" y="1393.3">4</text></g>
<g id="t557-n7"><text x="1049" y="1412.3">7</text></g>
<g id="t557-n22"><text x="1171" y="1326.7">22</text></g>
<g id="t557-n23"><text x="1171" y="1336.7">23</text></g>
<g id="t557-n21"><text x="1171" y="1356">21</text></g>
<g id="t557-n24"><text x="1171" y="1365.3">24</text></g>
<g id="t557-n18"><text x="1171" y="1374.3">18</text></g>
<g id="t557-n17"><text x="1171" y="1384">17</text></g>
<g id="t557-n20"><text x="1171" y="1393.3">20</text></g>
<g id="t557-n19"><text x="1171" y="1402.7">19</text></g>
<g id="t557-n16"><text x="1171" y="1412.3">16</text></g>
</g>
</g>
</svg>
